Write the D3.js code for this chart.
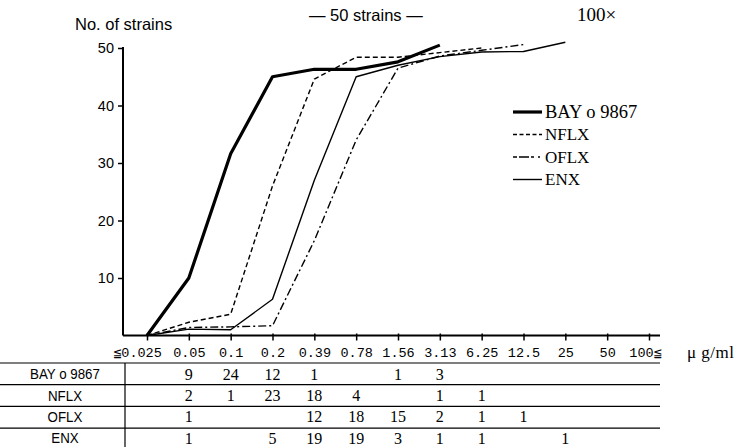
<!DOCTYPE html>
<html>
<head>
<meta charset="utf-8">
<script src="https://cdn.jsdelivr.net/npm/d3@7"></script>
<style>
  body { margin: 0; background: #fff; }
  svg { display: block; }
</style>
</head>
<body>
<svg id="chart"></svg>
<script>
var width = 735, height = 447

// MIC categories (ug/ml)
var categories = ["≦0.025", "0.05", "0.1", "0.2", "0.39", "0.78", "1.56", "3.13", "6.25", "12.5", "25", "50", "100≦"]
var drugs = ["BAY o 9867", "NFLX", "OFLX", "ENX"]

// cumulative no. of strains
var bayCurve  = [0, 10, 31.6, 45, 46.3, 46.3, 47.6, 50.5]
var nflxCurve = [0, 2.3, 3.7, 26, 44.6, 48.4, 48.4, 49.2, 50]
var oflxCurve = [0, 1.4, 1.5, 1.7, 16.5, 34, 46.5, 48.6, 49.6, 50.6]
var enxCurve  = [0, 1.1, 1, 6.3, 27, 45, 47, 48.5, 49.3, 49.4, 51]

// table counts per category ("" = empty cell)
var bayCounts  = ["", 9, 24, 12, 1, "", 1, 3, "", "", "", "", ""]
var nflxCounts = ["", 2, 1, 23, 18, 4, "", 1, 1, "", "", "", ""]
var oflxCounts = ["", 1, "", "", 12, 18, 15, 2, 1, 1, "", "", ""]
var enxCounts  = ["", 1, "", 5, 19, 19, 3, 1, 1, "", 1, "", ""]

var yTicks = [10, 20, 30, 40, 50]

var curves = [bayCurve, nflxCurve, oflxCurve, enxCurve]
var counts = [bayCounts, nflxCounts, oflxCounts, enxCounts]
var dashes = [null, "5,3", "8,3,2,3", null]
var widths = [3.2, 1.4, 1.4, 1.4]

var sans = "Liberation Sans, Arial, sans-serif"
var serif = "Liberation Serif, Times New Roman, serif"

var svg = d3.select("#chart").attr("width", width).attr("height", height)

var x = d3.scalePoint().domain(categories).range([147, 649])
var y = d3.scaleLinear().domain([0, 50]).range([335.5, 48])

// y axis
var yAxis = svg.append("g")
    .attr("transform", "translate(123,0)")
    .call(d3.axisLeft(y).tickValues(yTicks).tickSize(5).tickPadding(4))
yAxis.select(".domain").attr("d", "M0," + y(0) + "V" + (y(50) - 1)).attr("stroke-width", 2)
yAxis.selectAll(".tick line").attr("stroke-width", 1.5)
yAxis.selectAll("text").attr("font-family", sans).attr("font-size", 14.5).attr("fill", "#000")

// x axis
var xAxis = svg.append("g")
    .attr("transform", "translate(0," + y(0) + ")")
    .call(d3.axisBottom(x).tickSize(5).tickPadding(7))
xAxis.select(".domain").attr("d", "M123,0H660").attr("stroke-width", 2)
xAxis.selectAll(".tick line").attr("y1", -2).attr("stroke-width", 1.5)
xAxis.selectAll("text").attr("font-family", "Liberation Mono, monospace").attr("font-size", 13.5).attr("fill", "#000")
xAxis.selectAll("text").filter(function(d) { return d == categories[0] }).attr("dx", -10)
xAxis.selectAll("text").filter(function(d) { return d == categories[12] }).attr("dx", -4)

// curves
var line = d3.line()
    .x(function(d, i) { return x(categories[i]) })
    .y(function(d) { return y(d) })

svg.selectAll("path.curve")
    .data(curves)
    .enter()
    .append("path")
    .attr("class", "curve")
    .attr("d", line)
    .attr("fill", "none")
    .attr("stroke", "#000")
    .attr("stroke-width", function(d, i) { return widths[i] })
    .attr("stroke-dasharray", function(d, i) { return dashes[i] })
    .attr("stroke-linejoin", "round")

// legend
var legend = svg.append("g")
legend.selectAll("line")
    .data(drugs)
    .enter()
    .append("line")
    .attr("x1", 513).attr("x2", 542)
    .attr("y1", function(d, i) { return 112 + i * 22.5 })
    .attr("y2", function(d, i) { return 112 + i * 22.5 })
    .attr("stroke", "#000")
    .attr("stroke-width", function(d, i) { return widths[i] })
    .attr("stroke-dasharray", function(d, i) { return dashes[i] ? "4,2.5" : null })
legend.selectAll("line").filter(function(d, i) { return i == 2 }).attr("stroke-dasharray", "4,2,10,2,3")
legend.selectAll("text")
    .data(drugs)
    .enter()
    .append("text")
    .attr("x", 545)
    .attr("y", function(d, i) { return 112 + i * 22.5 })
    .attr("dy", "0.35em")
    .attr("font-family", serif)
    .attr("font-size", function(d, i) { return i == 0 ? 18.5 : 17 })
    .text(function(d) { return d })

// titles
svg.append("text").attr("x", 75).attr("y", 30)
    .attr("font-family", sans).attr("font-size", 16.5)
    .text("No. of strains")
svg.append("text").attr("x", 309).attr("y", 21)
    .attr("font-family", sans).attr("font-size", 16.5)
    .text("— 50 strains —")
svg.append("text").attr("x", 577).attr("y", 21)
    .attr("font-family", serif).attr("font-size", 19)
    .text("100×")
svg.append("text").attr("x", 687).attr("y", 358)
    .attr("font-family", serif).attr("font-size", 17)
    .attr("letter-spacing", 0.5)
    .text("μ g/ml")

// table
var rowTop = 363, rowH = 21.7, textH = 21.3
var table = svg.append("g")
table.selectAll("line.hr")
    .data(d3.range(drugs.length))
    .enter()
    .append("line")
    .attr("class", "hr")
    .attr("x1", 0).attr("x2", 660)
    .attr("y1", function(i) { return rowTop + i * rowH })
    .attr("y2", function(i) { return rowTop + i * rowH })
    .attr("stroke", "#000").attr("stroke-width", 1.2)
table.append("line")
    .attr("x1", 125).attr("x2", 125).attr("y1", rowTop).attr("y2", height)
    .attr("stroke", "#000").attr("stroke-width", 1.2)

table.selectAll("text.label")
    .data(drugs)
    .enter()
    .append("text")
    .attr("class", "label")
    .attr("transform", function(d, i) { return "translate(65," + (rowTop + i * textH + 11) + ") scale(0.86,1)" })
    .attr("dy", "0.35em")
    .attr("text-anchor", "middle")
    .attr("font-family", sans)
    .attr("font-size", 15.5)
    .text(function(d) { return d })

counts.forEach(function(row, r) {
    table.selectAll("text.c" + r)
        .data(row)
        .enter()
        .append("text")
        .attr("class", "c" + r)
        .attr("x", function(d, i) { return x(categories[i]) })
        .attr("y", rowTop + r * textH + 11)
        .attr("dy", "0.35em")
        .attr("text-anchor", "middle")
        .attr("font-family", serif)
        .attr("font-size", 16)
        .text(function(d) { return d })
})
</script>
</body>
</html>
